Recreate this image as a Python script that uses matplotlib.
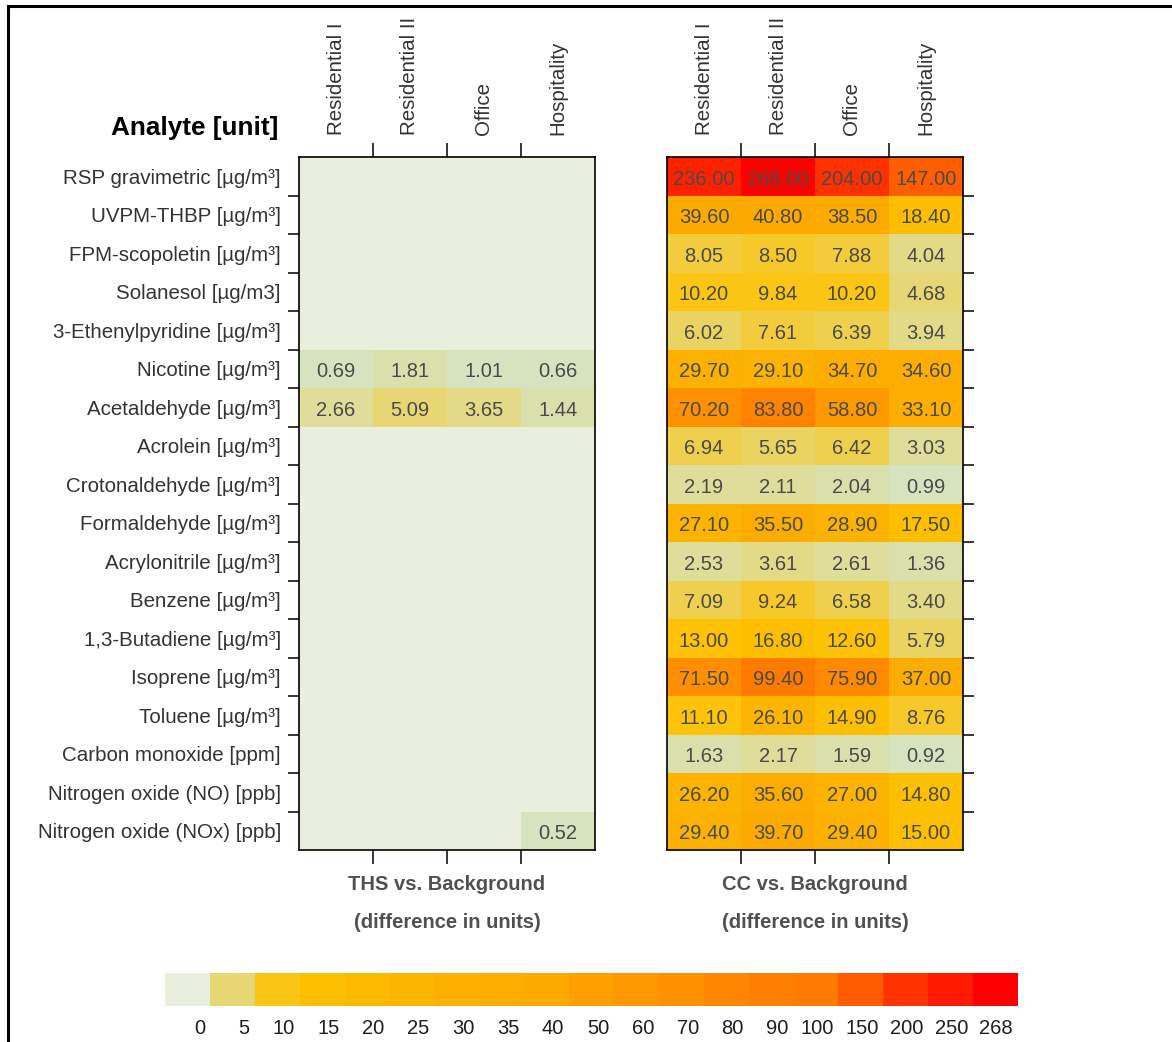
import numpy as np
import matplotlib
matplotlib.use('Agg')
import matplotlib.pyplot as plt
from matplotlib.colors import LinearSegmentedColormap, ListedColormap, Normalize
from matplotlib.lines import Line2D

plt.rcParams['font.family'] = ['Liberation Sans', 'DejaVu Sans']

nan = np.nan

analytes = ['RSP gravimetric [µg/m³]', 'UVPM-THBP [µg/m³]', 'FPM-scopoletin [µg/m³]',
            'Solanesol [µg/m3]', '3-Ethenylpyridine [µg/m³]', 'Nicotine [µg/m³]',
            'Acetaldehyde [µg/m³]', 'Acrolein [µg/m³]', 'Crotonaldehyde [µg/m³]',
            'Formaldehyde [µg/m³]', 'Acrylonitrile [µg/m³]', 'Benzene [µg/m³]',
            '1,3-Butadiene [µg/m³]', 'Isoprene [µg/m³]', 'Toluene [µg/m³]',
            'Carbon monoxide [ppm]', 'Nitrogen oxide (NO) [ppb]', 'Nitrogen oxide (NOx) [ppb]']
settings = ['Residential I', 'Residential II', 'Office', 'Hospitality']

# THS vs background, blank = no difference
ths = [[nan, nan, nan, nan]] * 5 + [
    [0.69, 1.81, 1.01, 0.66],
    [2.66, 5.09, 3.65, 1.44],
] + [[nan, nan, nan, nan]] * 10 + [
    [nan, nan, nan, 0.52],
]

cc = [
    [236.0, 268.0, 204.0, 147.0],
    [39.6, 40.8, 38.5, 18.4],
    [8.05, 8.50, 7.88, 4.04],
    [10.2, 9.84, 10.2, 4.68],
    [6.02, 7.61, 6.39, 3.94],
    [29.7, 29.1, 34.7, 34.6],
    [70.2, 83.8, 58.8, 33.1],
    [6.94, 5.65, 6.42, 3.03],
    [2.19, 2.11, 2.04, 0.99],
    [27.1, 35.5, 28.9, 17.5],
    [2.53, 3.61, 2.61, 1.36],
    [7.09, 9.24, 6.58, 3.40],
    [13.0, 16.8, 12.6, 5.79],
    [71.5, 99.4, 75.9, 37.0],
    [11.1, 26.1, 14.9, 8.76],
    [1.63, 2.17, 1.59, 0.92],
    [26.2, 35.6, 27.0, 14.8],
    [29.4, 39.7, 29.4, 15.0],
]

panel_titles = ['THS vs. Background', 'CC vs. Background']

levels = [0, 5, 10, 15, 20, 25, 30, 35, 40, 50, 60, 70, 80, 90, 100, 150, 200, 250, 268]
level_colors = ['#D6E3BE', '#E9D466', '#FDC30C', '#FDBF00', '#FDBB00', '#FCB500', '#FCB100',
                '#FDAD00', '#FDA900', '#FF9E00', '#FF9800', '#FF9000', '#FF8600', '#FF7F00',
                '#FF7B00', '#FF5C00', '#FF3300', '#FF1A00', '#FF0000']
bg = '#EAEEDC'

norm = Normalize(0, 268)
cmap = LinearSegmentedColormap.from_list(
    'ths', list(zip(np.array(levels) / 268.0, level_colors)))
cmap.set_bad(bg)

W, H = 1172, 1042
fig = plt.figure(figsize=(W / 100, H / 100), dpi=100)


def fx(px):
    return px / W


def fy(py):
    return 1 - py / H


nrow, ncol = len(analytes), len(settings)
lefts = [299, 667]
for k, data in enumerate([ths, cc]):
    arr = np.ma.masked_invalid(np.array(data, dtype=float))
    ax = fig.add_axes([fx(lefts[k]), fy(850), fx(296), 693 / H])
    ax.pcolormesh(np.arange(ncol + 1), np.arange(nrow + 1), arr, cmap=cmap, norm=norm)
    ax.set_xlim(0, ncol)
    ax.set_ylim(nrow, 0)
    for i in range(nrow):
        for j in range(ncol):
            v = arr[i, j]
            if v is not np.ma.masked:
                ax.text(j + 0.5, i + 0.58, '%.2f' % v, ha='center', va='center',
                        fontsize=14.5, color='#4A4A4A')
    for s in ax.spines.values():
        s.set_linewidth(1.2)

    # labels at centers, tick marks at boundaries
    ax.set_xticks(np.arange(ncol) + 0.5)
    ax.set_xticks(np.arange(1, ncol), minor=True)
    ax.xaxis.set_ticks_position('top')
    ax.tick_params(axis='x', which='major', length=0, pad=16, labelsize=14.8,
                   labelcolor='#333333', top=True, bottom=False)
    ax.tick_params(axis='x', which='minor', length=10, width=1.1, top=True, bottom=True)
    ax.set_xticklabels(settings, rotation=90, va='bottom')

    ax.set_yticks(np.arange(nrow) + 0.5)
    ax.set_yticks(np.arange(1, nrow), minor=True)
    if k == 0:
        ax.set_yticklabels(analytes)
        ax.tick_params(axis='y', which='major', length=0, pad=13, labelsize=14.8,
                       labelcolor='#333333')
        ax.tick_params(axis='y', which='minor', length=8, width=1.1, left=True, right=False)
    else:
        ax.set_yticklabels([])
        ax.tick_params(axis='y', which='major', length=0, left=False)
        ax.tick_params(axis='y', which='minor', length=8, width=1.1, left=False, right=True)

    ax.text(0.5, -35 / 693, panel_titles[k], transform=ax.transAxes, ha='center',
            va='center', fontsize=14.5, fontweight='bold', color='#505050')
    ax.text(0.5, -73 / 693, '(difference in units)', transform=ax.transAxes, ha='center',
            va='center', fontsize=14.5, fontweight='bold', color='#505050')

fig.text(fx(278), fy(128), 'Analyte [unit]', ha='right', va='center',
         fontsize=18.8, fontweight='bold', color='black')

# colour key
seg_colors = [bg] + [cmap(norm(v)) for v in levels[1:]]
cax = fig.add_axes([fx(165), fy(1006), fx(853), 33 / H])
cax.pcolormesh(np.arange(len(levels) + 1), [0, 1], np.arange(len(levels)).reshape(1, -1),
               cmap=ListedColormap(seg_colors), vmin=-0.5, vmax=len(levels) - 0.5)
cax.set_xlim(0, len(levels))
cax.set_ylim(0, 1)
cax.axis('off')
for i, v in enumerate(levels):
    cax.text(i + 0.89, -0.67, str(v), ha='right', va='center', fontsize=14.5,
             color='#1E1E1E', transform=cax.get_xaxis_transform())

# frame of the original figure
fig.add_artist(Line2D([fx(8), 1], [fy(6), fy(6)], color='black', lw=2.2))
fig.add_artist(Line2D([fx(8), fx(8)], [0, fy(6)], color='black', lw=2.2))

fig.savefig('out.png', dpi=100)
